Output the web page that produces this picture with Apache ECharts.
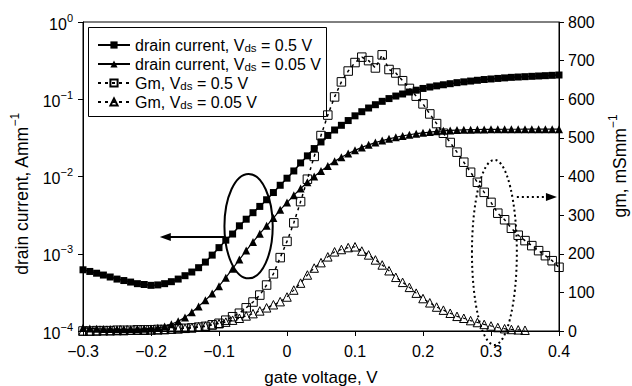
<!DOCTYPE html>
<html>
<head>
<meta charset="utf-8">
<script src="https://cdn.jsdelivr.net/npm/echarts@6/dist/echarts.min.js"></script>
<style>
  html, body { margin: 0; padding: 0; background: #fff; }
  #chart { width: 632px; height: 386px; }
</style>
</head>
<body>
<div id="chart"></div>
<script>
// gate voltage grid, V
const gateVoltage = [
  -0.30, -0.29, -0.28, -0.27, -0.26, -0.25, -0.24, -0.23, -0.22, -0.21,
  -0.20, -0.19, -0.18, -0.17, -0.16, -0.15, -0.14, -0.13, -0.12, -0.11,
  -0.10, -0.09, -0.08, -0.07, -0.06, -0.05, -0.04, -0.03, -0.02, -0.01,
  0.00, 0.01, 0.02, 0.03, 0.04, 0.05, 0.06, 0.07, 0.08, 0.09,
  0.10, 0.11, 0.12, 0.13, 0.14, 0.15, 0.16, 0.17, 0.18, 0.19,
  0.20, 0.21, 0.22, 0.23, 0.24, 0.25, 0.26, 0.27, 0.28, 0.29,
  0.30, 0.31, 0.32, 0.33, 0.34, 0.35, 0.36, 0.37, 0.38, 0.39, 0.40
];

// drain current, A/mm, Vds = 0.5 V
const idHigh = [
  6.2e-4, 5.9e-4, 5.6e-4, 5.3e-4, 5.0e-4, 4.7e-4, 4.5e-4, 4.3e-4, 4.1e-4, 4.0e-4,
  3.9e-4, 3.95e-4, 4.1e-4, 4.35e-4, 4.7e-4, 5.2e-4, 5.8e-4, 6.6e-4, 7.8e-4, 9.6e-4,
  1.2e-3, 1.5e-3, 1.8e-3, 2.3e-3, 2.8e-3, 3.4e-3, 4.1e-3, 5.0e-3, 6.2e-3, 7.7e-3,
  9.5e-3, 0.0118, 0.015, 0.0185, 0.023, 0.028, 0.034, 0.040, 0.046, 0.053,
  0.061, 0.069, 0.077, 0.085, 0.094, 0.102, 0.110, 0.117, 0.124, 0.131,
  0.138, 0.144, 0.149, 0.154, 0.159, 0.164, 0.168, 0.172, 0.176, 0.180,
  0.183, 0.186, 0.189, 0.192, 0.194, 0.196, 0.198, 0.200, 0.202, 0.204, 0.206
];

// drain current, A/mm, Vds = 0.05 V
const idLow = [
  1.10e-4, 1.08e-4, 1.07e-4, 1.06e-4, 1.06e-4, 1.05e-4, 1.05e-4, 1.05e-4, 1.06e-4, 1.07e-4,
  1.08e-4, 1.10e-4, 1.14e-4, 1.22e-4, 1.34e-4, 1.50e-4, 1.75e-4, 2.08e-4, 2.5e-4, 3.05e-4,
  3.8e-4, 4.9e-4, 6.4e-4, 8.4e-4, 1.1e-3, 1.42e-3, 1.82e-3, 2.3e-3, 2.9e-3, 3.7e-3,
  4.6e-3, 5.7e-3, 7.0e-3, 8.4e-3, 0.0100, 0.0118, 0.0137, 0.0157, 0.0177, 0.0198,
  0.0218, 0.0238, 0.0257, 0.0275, 0.0292, 0.0307, 0.0322, 0.0335, 0.0347, 0.0358,
  0.0368, 0.0376, 0.0384, 0.0390, 0.0395, 0.0399, 0.0402, 0.0404, 0.0406, 0.0407,
  0.0408, 0.0408, 0.0409, 0.0409, 0.0409, 0.0410, 0.0410, 0.0410, 0.0410, 0.0410, 0.0410
];

// transconductance, mS/mm, Vds = 0.5 V
const gmHigh = [
  0, 0, 1, 1, 1, 2, 2, 2, 3, 3,
  3, 4, 4, 5, 6, 7, 8, 10, 12, 16,
  20, 28, 37, 46, 60, 75, 93, 119, 148, 190,
  232, 280, 335, 393, 452, 506, 559, 606, 645, 673,
  695, 709, 700, 681, 715, 677, 668, 648, 628, 608,
  588, 562, 537, 512, 488, 463, 437, 411, 385, 359,
  333, 305, 288, 266, 248, 234, 221, 208, 195, 182, 165
];

// transconductance, mS/mm, Vds = 0.05 V (ends at 0.35 V)
const gmLow = [
  0, 0, 0, 1, 1, 1, 1, 2, 2, 2,
  3, 3, 4, 5, 6, 7, 9, 11, 13, 16,
  19, 23, 28, 33, 39, 45, 52, 60, 68, 76,
  88, 106, 124, 145, 163, 177, 192, 205, 211, 216,
  218, 207, 197, 184, 171, 156, 139, 126, 113, 98,
  84, 73, 62, 54, 46, 38, 33, 27, 22, 17,
  13, 9, 6, 4, 3, 2
];

const FONT = 'Liberation Sans, Arial, Helvetica, sans-serif';

const pair = (ys) => ys.map((y, i) => [gateVoltage[i], y]);

const chart = echarts.init(document.getElementById('chart'), null, { renderer: 'svg' });

const supRich = {
  b: { fontSize: 16, fontFamily: FONT, color: '#000', lineHeight: 20, verticalAlign: 'bottom' },
  s: { fontSize: 11, fontFamily: FONT, color: '#000', lineHeight: 12, verticalAlign: 'top' }
};

const option = {
  animation: false,
  backgroundColor: '#fff',
  textStyle: { fontFamily: FONT, color: '#000' },
  grid: {
    left: 83, right: 73, top: 22, bottom: 55,
    show: true, borderColor: '#000', borderWidth: 1
  },
  legend: {
    orient: 'vertical',
    left: 92, top: 31,
    itemWidth: 32, itemHeight: 9, itemGap: 1,
    textStyle: {
      fontFamily: FONT, fontSize: 16, color: '#000', lineHeight: 18,
      rich: {
        sub: { fontFamily: FONT, fontSize: 11.5, color: '#000', lineHeight: 18, verticalAlign: 'bottom' }
      }
    },
    formatter: (name) => name.replace('Vds', 'V{sub|ds}'),
    data: [
      'drain current, Vds = 0.5 V',
      'drain current, Vds = 0.05 V',
      'Gm, Vds = 0.5 V',
      'Gm, Vds = 0.05 V'
    ]
  },
  xAxis: {
    type: 'value', min: -0.3, max: 0.4, interval: 0.1,
    splitLine: { show: false },
    axisLine: { onZero: false, lineStyle: { color: '#000', width: 1 } },
    axisTick: { length: 5, lineStyle: { color: '#000' } },
    axisLabel: {
      margin: 12, fontSize: 16, fontFamily: FONT, color: '#000',
      formatter: (v) => {
        const r = Math.round(v * 10) / 10;
        if (r === 0) return '0';
        return (r < 0 ? '\u2212' : '') + Math.abs(r).toFixed(1);
      }
    }
  },
  yAxis: [
    {
      type: 'log', logBase: 10, min: 1e-4, max: 1, position: 'left',
      splitLine: { show: false },
      axisLine: { show: true, onZero: false, lineStyle: { color: '#000' } },
      axisTick: { show: true, length: 5, lineStyle: { color: '#000' } },
      minorTick: { show: false },
      axisLabel: {
        margin: 10,
        rich: supRich,
        formatter: (v) => {
          const e = Math.round(Math.log10(v));
          return '{b|10}{s|' + (e < 0 ? '\u2212' + (-e) : e) + '}';
        }
      }
    },
    {
      type: 'value', min: 0, max: 800, interval: 100, position: 'right',
      splitLine: { show: false },
      axisLine: { show: true, onZero: false, lineStyle: { color: '#000' } },
      axisTick: { show: true, length: 5, lineStyle: { color: '#000' } },
      axisLabel: { margin: 9, fontSize: 16, fontFamily: FONT, color: '#000' }
    }
  ],
  series: [
    {
      name: 'drain current, Vds = 0.5 V',
      type: 'line', yAxisIndex: 0, data: pair(idHigh),
      symbol: 'rect', symbolSize: 7,
      itemStyle: { color: '#000' },
      lineStyle: { color: '#000', width: 1.5 },
      z: 3
    },
    {
      name: 'drain current, Vds = 0.05 V',
      type: 'line', yAxisIndex: 0, data: pair(idLow),
      symbol: 'triangle', symbolSize: 8,
      itemStyle: { color: '#000' },
      lineStyle: { color: '#000', width: 1.2 },
      z: 3
    },
    {
      name: 'Gm, Vds = 0.5 V',
      type: 'line', yAxisIndex: 1, data: pair(gmHigh),
      symbol: 'rect', symbolSize: 8.5,
      itemStyle: { color: 'rgba(255,255,255,0)', borderColor: '#000', borderWidth: 1 },
      lineStyle: { color: '#000', width: 1.5, type: [3, 4] },
      z: 4
    },
    {
      name: 'Gm, Vds = 0.05 V',
      type: 'line', yAxisIndex: 1, data: pair(gmLow),
      symbol: 'triangle', symbolSize: 8.5,
      itemStyle: { color: 'rgba(255,255,255,0)', borderColor: '#000', borderWidth: 1 },
      lineStyle: { color: '#000', width: 1.2, type: [3, 4] },
      z: 4
    }
  ]
};

chart.setOption(option);

// annotations (ellipses, arrows, legend frame, axis titles), placed through the axes
function drawNotes() {
  const L = (x, y) => chart.convertToPixel({ xAxisIndex: 0, yAxisIndex: 0 }, [x, y]);
  const R = (x, y) => chart.convertToPixel({ xAxisIndex: 0, yAxisIndex: 1 }, [x, y]);

  const a = L(-0.092, 0.0108), b = L(-0.021, 4.8e-4);
  const t1 = L(-0.187, 1.65e-3);
  const c = R(0.272, 443), d = R(0.338, -36);
  const t2 = R(0.397, 347);

  const dot = [2, 3];
  const titleRich = {
    m: { fontSize: 17.5, fontFamily: FONT, fill: '#000', lineHeight: 22, verticalAlign: 'bottom' },
    s: { fontSize: 12, fontFamily: FONT, fill: '#000', lineHeight: 13, verticalAlign: 'top' }
  };
  const graphic = [
    {
      type: 'ellipse',
      shape: { cx: (a[0] + b[0]) / 2, cy: (a[1] + b[1]) / 2, rx: (b[0] - a[0]) / 2, ry: (b[1] - a[1]) / 2 },
      style: { fill: 'none', stroke: '#000', lineWidth: 2 }
    },
    {
      type: 'line',
      shape: { x1: a[0], y1: t1[1], x2: t1[0] + 8, y2: t1[1] },
      style: { stroke: '#000', lineWidth: 2 }
    },
    {
      type: 'polygon',
      shape: { points: [[t1[0], t1[1]], [t1[0] + 11, t1[1] - 4], [t1[0] + 11, t1[1] + 4]] },
      style: { fill: '#000' }
    },
    {
      type: 'ellipse',
      shape: { cx: (c[0] + d[0]) / 2, cy: (c[1] + d[1]) / 2, rx: (d[0] - c[0]) / 2, ry: (d[1] - c[1]) / 2 },
      style: { fill: 'none', stroke: '#000', lineWidth: 2, lineDash: dot }
    },
    {
      type: 'line',
      shape: { x1: d[0], y1: t2[1], x2: t2[0] - 8, y2: t2[1] },
      style: { stroke: '#000', lineWidth: 2, lineDash: dot }
    },
    {
      type: 'polygon',
      shape: { points: [[t2[0], t2[1]], [t2[0] - 11, t2[1] - 4], [t2[0] - 11, t2[1] + 4]] },
      style: { fill: '#000' }
    },
    // legend frame
    {
      type: 'rect', z: 10,
      shape: { x: 88.5, y: 27.5, width: 238, height: 89 },
      style: { fill: 'none', stroke: '#000', lineWidth: 1 }
    },
    // axis titles
    {
      type: 'text', x: 20, y: 194, rotation: Math.PI / 2,
      style: { text: '{m|drain current, Amm}{s|\u22121}', align: 'center', verticalAlign: 'middle', rich: titleRich }
    },
    {
      type: 'text', x: 618, y: 166, rotation: Math.PI / 2,
      style: { text: '{m|gm, mSmm}{s|\u22121}', align: 'center', verticalAlign: 'middle', rich: titleRich }
    },
    {
      type: 'text', x: 321, y: 377,
      style: {
        text: 'gate voltage, V', align: 'center', verticalAlign: 'middle',
        fontSize: 17, fontFamily: FONT, fill: '#000'
      }
    }
  ];
  chart.setOption({ graphic: graphic });
}

drawNotes();
</script>
</body>
</html>
